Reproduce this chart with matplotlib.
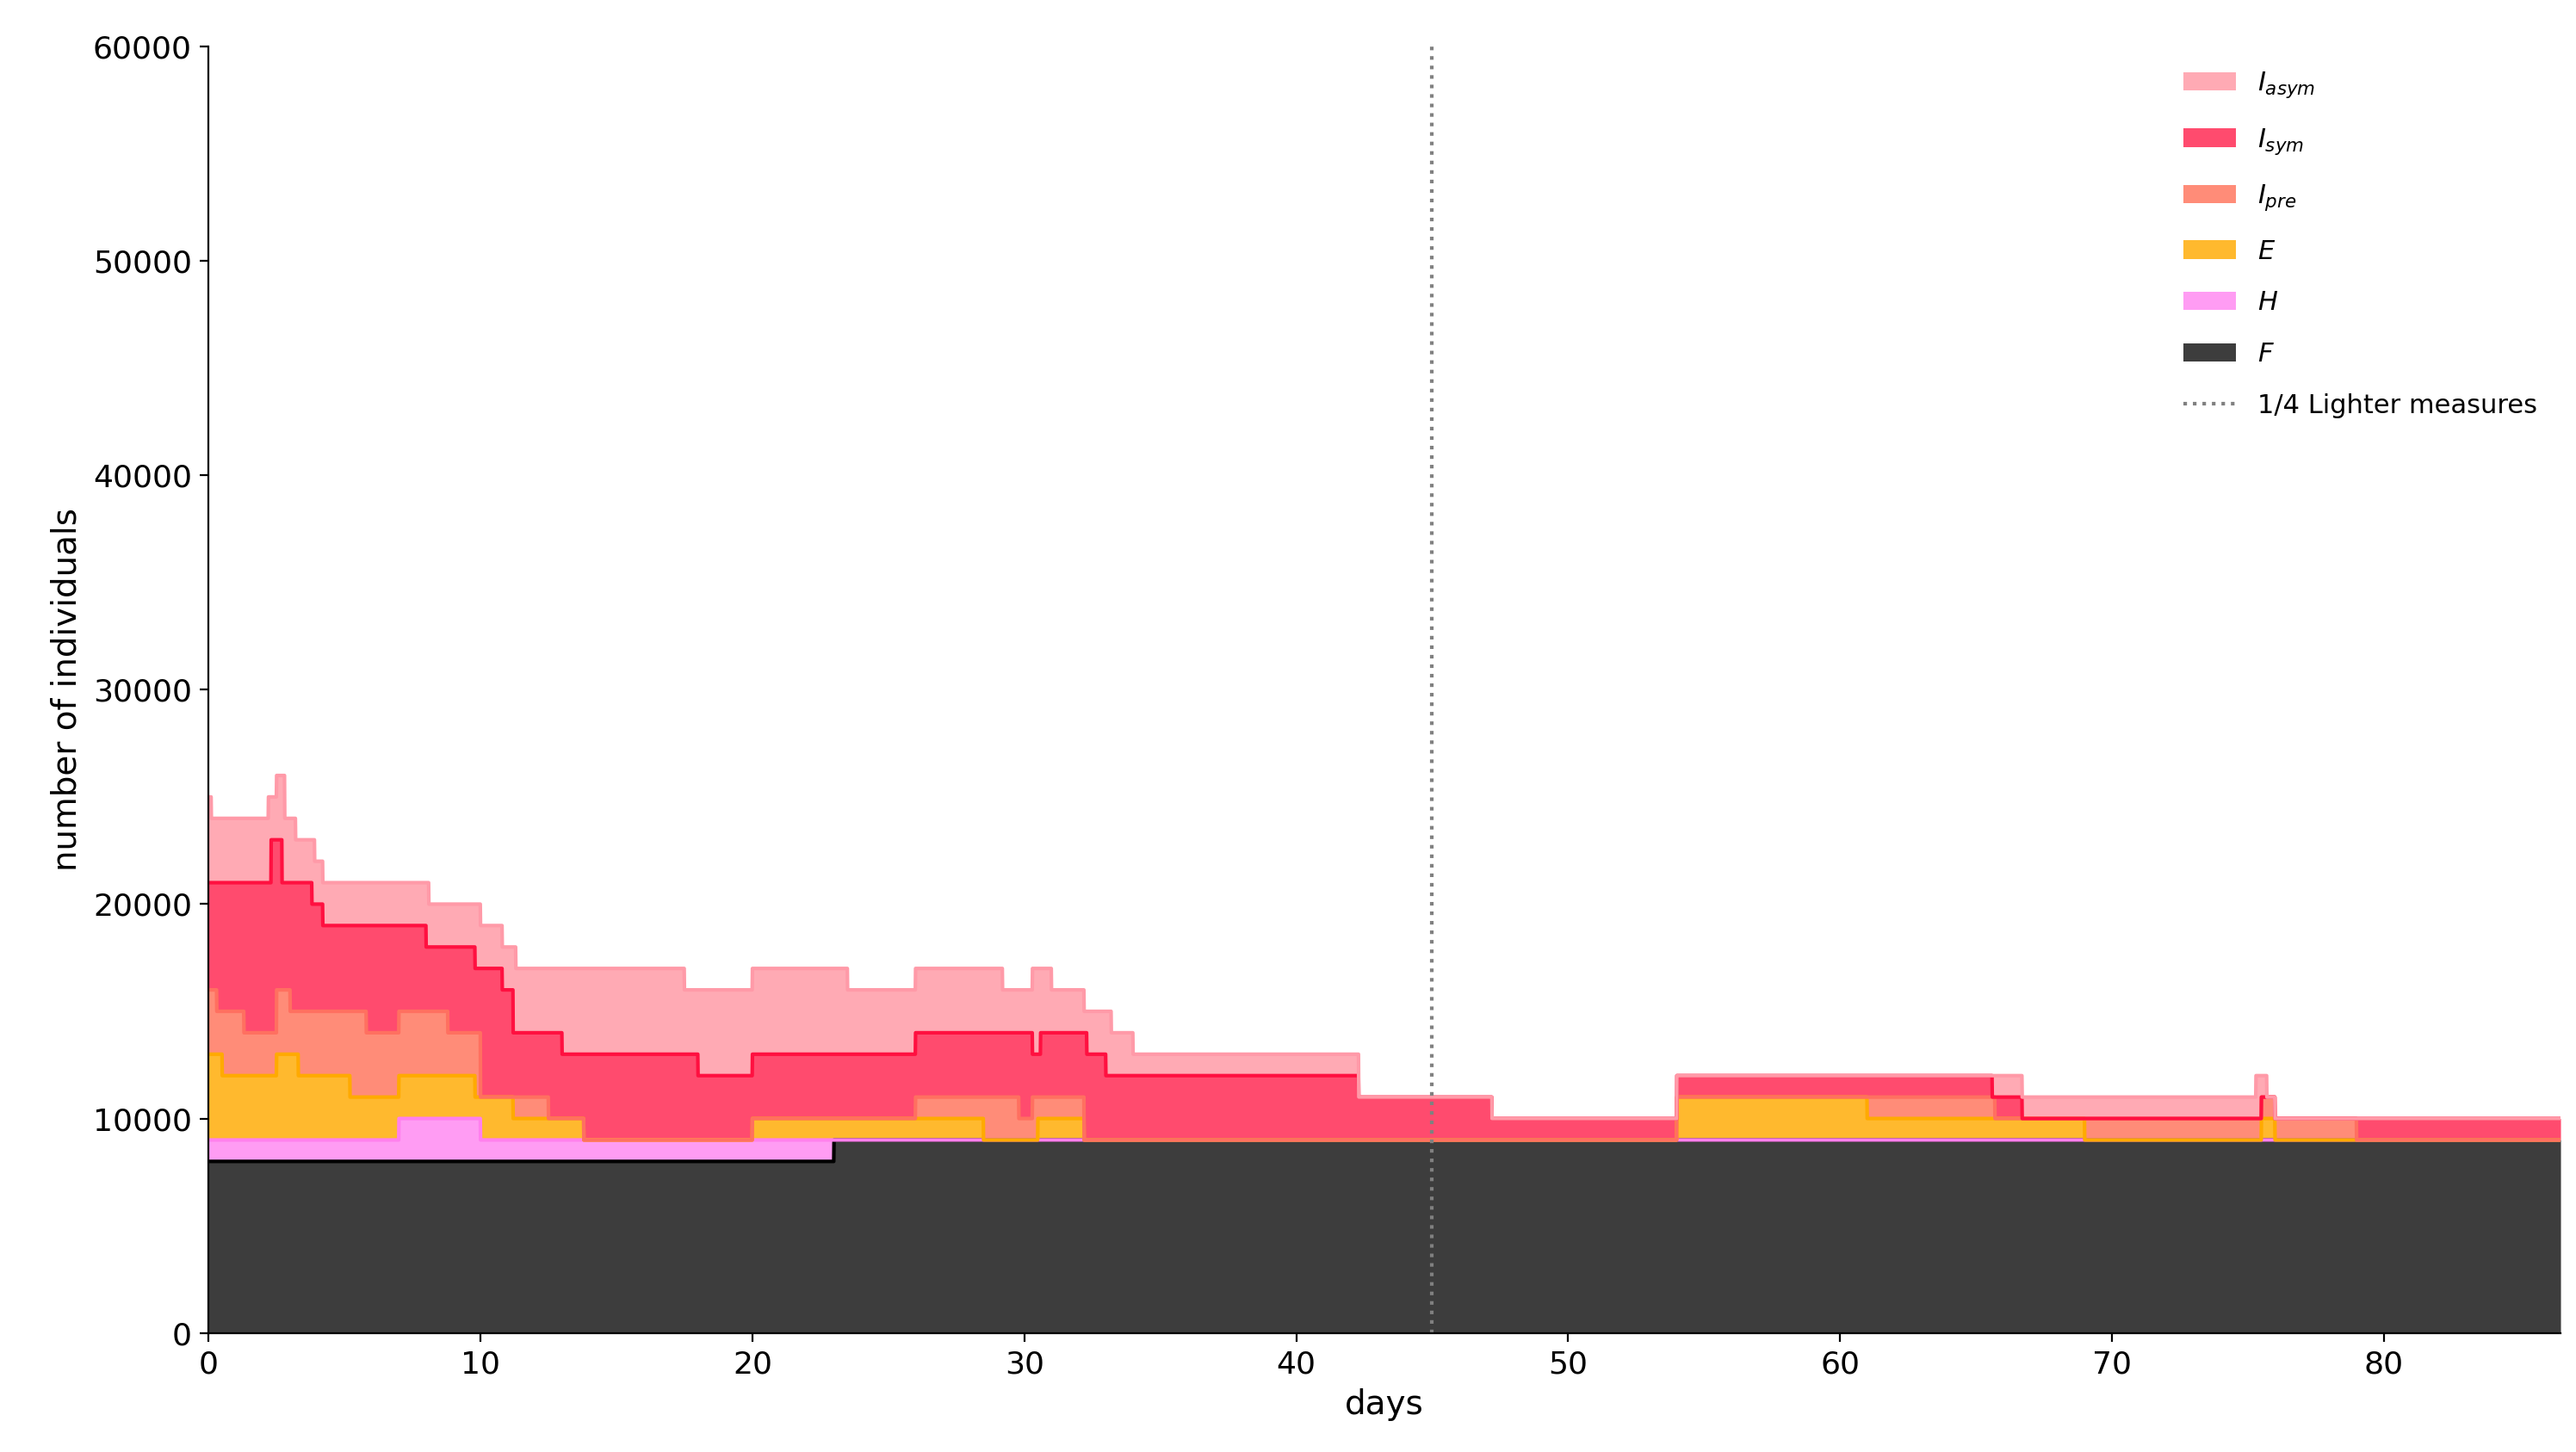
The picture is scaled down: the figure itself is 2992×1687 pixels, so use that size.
import numpy as np
import matplotlib.pyplot as plt

# cumulative top of each layer, as step changes (day, level)
f_days = [0, 23]
f_vals = [8000, 9000]
h_days = [0, 7, 10, 23]
h_vals = [9000, 10000, 9000, 9000]
e_days = [0, 0.5, 2.5, 3.3, 5.2, 7, 9.8, 11.2, 13.8, 20, 28.5, 30.5, 32.2, 54, 61, 69, 75.5, 76]
e_vals = [13000, 12000, 13000, 12000, 11000, 12000, 11000, 10000, 9000, 10000, 9000, 10000, 9000,
          11000, 10000, 9000, 10000, 9000]
p_days = [0, 0.3, 1.3, 2.5, 3, 5.8, 7, 8.8, 10, 12.5, 13.8, 26, 29.8, 30.3, 32.2, 54, 65.7, 75.5, 76, 79]
p_vals = [16000, 15000, 14000, 16000, 15000, 14000, 15000, 14000, 11000, 10000, 9000, 11000, 10000,
          11000, 9000, 11000, 10000, 11000, 10000, 9000]
s_days = [0, 2.3, 2.7, 3.8, 4.2, 8, 9.8, 10.8, 11.2, 13, 18, 20, 26, 30.3, 30.6, 32.3, 33, 42.3,
          47.2, 54, 65.6, 66.7, 75.5, 76]
s_vals = [21000, 23000, 21000, 20000, 19000, 18000, 17000, 16000, 14000, 13000, 12000, 13000, 14000,
          13000, 14000, 13000, 12000, 11000, 10000, 12000, 11000, 10000, 11000, 10000]
a_days = [0, 0.1, 2.2, 2.5, 2.8, 3.2, 3.9, 4.2, 8.1, 10, 10.8, 11.3, 17.5, 20, 23.5, 26, 29.2, 30.3,
          31, 32.2, 33.2, 34, 42.3, 47.2, 54, 65.6, 66.7, 75.3, 75.7, 76]
a_vals = [25000, 24000, 25000, 26000, 24000, 23000, 22000, 21000, 20000, 19000, 18000, 17000, 16000,
          17000, 16000, 17000, 16000, 17000, 16000, 15000, 14000, 13000, 11000, 10000, 12000, 12000,
          11000, 12000, 11000, 10000]

end_day = 86.5
t = np.linspace(0, end_day, 8651)


def step(days, vals):
    idx = np.searchsorted(days, t, side="right") - 1
    return np.asarray(vals, dtype=float)[idx]


layers = [
    ("$F$", f_days, f_vals, "#3d3d3d", "black"),
    ("$H$", h_days, h_vals, "#ff9cf3", "#ff80ee"),
    ("$E$", e_days, e_vals, "#ffb92e", "#ffaa00"),
    ("$I_{pre}$", p_days, p_vals, "#ff8c78", "#ff7060"),
    ("$I_{sym}$", s_days, s_vals, "#ff4b6e", "#ff1040"),
    ("$I_{asym}$", a_days, a_vals, "#ffaab4", "#ff9aa8"),
]

fig = plt.figure(figsize=(14.96, 8.435), dpi=200)
ax = fig.add_axes([0.081, 0.082, 0.913, 0.886])

lower = np.zeros_like(t)
handles = {}
for label, d, v, fc, ec in layers:
    upper = np.maximum(step(d, v), lower)
    handles[label] = ax.fill_between(t, lower, upper, color=fc, label=label, linewidth=0)
    ax.plot(t, upper, color=ec, linewidth=1.5)
    lower = upper

vl = ax.axvline(45, color="grey", linestyle=":", linewidth=1.5, label="1/4 Lighter measures")

order = ["$I_{asym}$", "$I_{sym}$", "$I_{pre}$", "$E$", "$H$", "$F$"]
ax.legend([handles[k] for k in order] + [vl], order + ["1/4 Lighter measures"],
          loc="upper right", frameon=False, fontsize=11, labelspacing=1.0)

ax.set_xlim(0, end_day)
ax.set_ylim(0, 60000)
ax.set_xticks(range(0, 81, 10))
ax.set_yticks(range(0, 60001, 10000))
ax.tick_params(labelsize=13)
ax.set_xlabel("days", fontsize=14)
ax.set_ylabel("number of individuals", fontsize=14)
ax.spines["top"].set_visible(False)
ax.spines["right"].set_visible(False)

fig.savefig("out.png", dpi=200)
